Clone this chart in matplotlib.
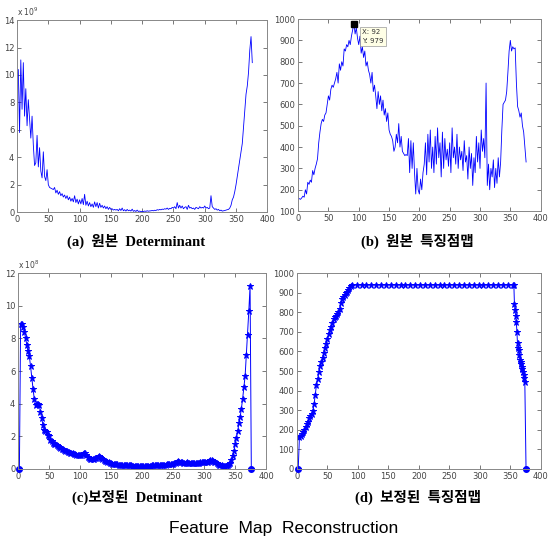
import numpy as np
import matplotlib.pyplot as plt

# (a) original determinant (units of 1e9), one value every 2 frames from 0
det_orig = [
    10.0, 10.4, 5.8, 11.1, 7.5, 10.9, 7.0, 9.0, 6.3, 8.2,
    6.8, 5.4, 7.0, 4.9, 3.4, 3.6, 5.6, 3.3, 4.7, 3.0,
    2.5, 4.4, 2.6, 2.3, 3.1, 2.0, 1.8, 1.75, 1.7, 1.65,
    1.8, 1.4, 1.6, 1.3, 1.5, 1.2, 1.35, 1.1, 1.25, 1.0,
    1.2, 0.9, 1.1, 0.8, 1.0, 0.75, 1.2, 0.7, 0.95, 0.6,
    0.9, 0.6, 1.0, 0.55, 1.3, 0.5, 0.8, 0.45, 0.7, 0.4,
    0.6, 0.35, 0.75, 0.4, 0.7, 0.3, 0.65, 0.35, 0.5, 0.3,
    0.45, 0.25, 0.4, 0.2, 0.35, 0.2, 0.25, 0.15, 0.2, 0.15,
    0.2, 0.1, 0.25, 0.12, 0.3, 0.1, 0.18, 0.08, 0.2, 0.1,
    0.15, 0.08, 0.22, 0.06, 0.12, 0.05, 0.15, 0.05, 0.08, 0.04,
    0.06, 0.05, 0.08, 0.06, 0.1, 0.07, 0.09, 0.1, 0.12, 0.1,
    0.14, 0.12, 0.18, 0.15, 0.2, 0.17, 0.22, 0.2, 0.25, 0.22,
    0.3, 0.2, 0.28, 0.25, 0.35, 0.3, 0.4, 0.25, 0.7, 0.3,
    0.5, 0.3, 0.45, 0.25, 0.35, 0.4, 0.2, 0.5, 0.3, 0.35,
    0.25, 0.3, 0.2, 0.35, 0.3, 0.25, 0.4, 0.3, 0.35, 0.3,
    0.45, 0.3, 0.35, 0.25, 0.3, 1.2, 0.4, 0.3, 0.2, 0.25,
    0.15, 0.2, 0.1, 0.15, 0.08, 0.1, 0.12, 0.15, 0.18, 0.2,
    0.3, 0.5, 0.9, 1.1, 1.5, 2.0, 2.6, 3.2, 3.8, 4.4,
    5.0, 6.2, 7.4, 8.6, 9.2, 10.2, 11.8, 12.8, 10.9,
]

# (b) original feature-point map
feat_orig = [
    160, 158, 155, 162, 170, 165, 200, 180, 235, 225,
    245, 235, 290, 270, 300, 320, 345, 420, 470, 510,
    530, 520, 550, 560, 600, 640, 620, 670, 690, 680,
    700, 720, 750, 700, 790, 760, 800, 780, 860, 850,
    880, 870, 900, 880, 920, 950, 979, 930, 960, 910,
    880, 920, 840, 870, 820, 850, 780, 800, 760, 740,
    700, 750, 660, 690, 640, 580, 660, 600, 640, 570,
    620, 550, 580, 520, 560, 480, 460, 450, 430, 380,
    400, 460, 420, 510, 400, 450, 380, 370, 360, 365,
    360, 440, 280, 430, 300, 420, 280, 180, 300, 200,
    180, 250, 200, 280, 320, 420, 270, 460, 330, 480,
    300, 400, 280, 450, 320, 490, 350, 420, 260, 470,
    300, 440, 340, 390, 310, 420, 280, 490, 350, 400,
    320, 460, 300, 400, 340, 380, 290, 430, 330, 360,
    250, 400, 300, 370, 220, 350, 280, 450, 330, 420,
    300, 480, 380, 440, 350, 700, 220, 320, 200, 300,
    260, 340, 210, 300, 230, 350, 260, 330, 480, 600,
    610, 620, 660, 750, 850, 900, 850, 870, 860, 865,
    700, 590, 570, 540, 560, 500, 470, 400, 330,
]
frames_orig = np.arange(0, 377, 2)

# (c) corrected determinant (units of 1e8)
det_fix = [
    0, 8.9, 8.85, 8.7, 8.4, 8.0, 7.6, 7.2, 6.9, 6.3,
    5.6, 4.9, 4.3, 3.9, 3.95, 4.0, 3.9, 3.5, 3.1, 2.7,
    2.4, 2.3, 2.25, 2.1, 2.0, 1.8, 1.7, 1.6, 1.55, 1.5,
    1.45, 1.4, 1.35, 1.3, 1.25, 1.2, 1.15, 1.12, 1.1, 1.05,
    1.02, 1.0, 0.97, 0.95, 0.92, 0.9, 0.88, 0.87, 0.85, 0.85,
    0.88, 0.92, 0.97, 0.95, 0.85, 0.75, 0.65, 0.6, 0.58, 0.6,
    0.62, 0.66, 0.7, 0.75, 0.77, 0.75, 0.7, 0.62, 0.55, 0.5,
    0.47, 0.43, 0.4, 0.37, 0.35, 0.33, 0.31, 0.3, 0.29, 0.28,
    0.27, 0.26, 0.26, 0.25, 0.24, 0.24, 0.23, 0.23, 0.22, 0.22,
    0.22, 0.21, 0.2, 0.19, 0.18, 0.17, 0.16, 0.15, 0.15, 0.15,
    0.15, 0.16, 0.17, 0.18, 0.19, 0.2, 0.21, 0.22, 0.22, 0.23,
    0.23, 0.24, 0.24, 0.25, 0.25, 0.25, 0.26, 0.26, 0.27, 0.28,
    0.29, 0.3, 0.31, 0.32, 0.33, 0.35, 0.38, 0.45, 0.48, 0.45,
    0.42, 0.4, 0.38, 0.37, 0.38, 0.4, 0.39, 0.37, 0.36, 0.37,
    0.38, 0.36, 0.35, 0.34, 0.35, 0.37, 0.4, 0.42, 0.43, 0.42,
    0.4, 0.42, 0.45, 0.5, 0.53, 0.55, 0.5, 0.45, 0.4, 0.35,
    0.3, 0.27, 0.25, 0.22, 0.2, 0.18, 0.18, 0.19, 0.22, 0.28,
    0.38, 0.55, 0.8, 1.1, 1.5, 1.9, 2.3, 2.8, 3.2, 3.7,
    4.3, 5.0, 5.7, 7.0, 8.2, 9.7, 11.2, 0,
]
frames_det_fix = np.arange(2, 377, 2)

# (d) corrected feature-point map
ramp = [0, 165, 170, 178, 188, 200, 212, 228, 242, 258,
        270, 282, 298, 330, 380, 430, 460, 495, 525, 545,
        565, 590, 615, 640, 665, 690, 708, 725, 745, 765,
        775, 780, 790, 800, 815, 845, 870, 880, 890, 897,
        903, 912, 922, 932]
plateau = [940] * 35
descent = [840, 810, 780, 752, 701, 641, 620, 607, 580, 556,
           545, 535, 522, 510, 495, 480, 462, 446, 0]
feat_fix = ramp + plateau + descent
frames_feat_fix = (list(range(2, 90, 2)) + list(range(90, 355, 8)) + [356]
                   + list(range(357, 375)) + [376])

captions = ['(a)  원본  Determinant', '(b)  원본  특징점맵',
            '(c)보정된  Detminant', '(d)  보정된  특징점맵']
cap_font = ['Liberation Serif', 'Noto Sans CJK KR']

fig = plt.figure(figsize=(5.5, 5.44), dpi=100)
ax_a = fig.add_axes([0.031, 0.610, 0.455, 0.353])
ax_b = fig.add_axes([0.542, 0.612, 0.441, 0.353])
ax_c = fig.add_axes([0.033, 0.138, 0.451, 0.360])
ax_d = fig.add_axes([0.540, 0.138, 0.443, 0.360])

for ax in (ax_a, ax_b, ax_c, ax_d):
    ax.tick_params(direction='in', top=True, right=True, length=3, width=0.5,
                   labelsize=6, colors='#444444', pad=2)
    for s in ax.spines.values():
        s.set_color('#888888')
        s.set_linewidth(0.7)
    ax.set_xlim(0, 400)
    ax.set_xticks(range(0, 401, 50))

blue = '#0000ff'

ax_a.plot(frames_orig, det_orig, color=blue, lw=0.6)
ax_a.set_ylim(0, 14)
ax_a.set_yticks(range(0, 15, 2))
ax_a.text(0.0, 1.01, r'x 10$^9$', transform=ax_a.transAxes, fontsize=5.5,
          color='#444444', va='bottom')

ax_b.plot(frames_orig, feat_orig, color=blue, lw=0.6)
ax_b.set_ylim(100, 1000)
ax_b.set_yticks(range(100, 1001, 100))
i_max = int(np.argmax(feat_orig))
ax_b.plot(frames_orig[i_max], feat_orig[i_max], 's', color='black', ms=4,
          clip_on=False)
ax_b.annotate('X: %d\nY: %d' % (frames_orig[i_max], feat_orig[i_max]),
              (frames_orig[i_max], feat_orig[i_max]), xytext=(6, -4),
              textcoords='offset points', fontsize=5, va='top',
              color='#333333', linespacing=1.5,
              bbox=dict(boxstyle='square,pad=0.35', fc='#ffffe6', ec='#999999',
                        lw=0.5))

ax_c.plot(frames_det_fix, det_fix, color=blue, lw=0.7, marker='*', ms=5,
          mew=0.7)
zc = [x for x, v in zip(frames_det_fix, det_fix) if v == 0]
ax_c.plot(zc, [0] * len(zc), 'o', color=blue, ms=4, clip_on=False)
ax_c.set_ylim(0, 12)
ax_c.set_yticks(range(0, 13, 2))
ax_c.text(0.0, 1.01, r'x 10$^8$', transform=ax_c.transAxes, fontsize=5.5,
          color='#444444', va='bottom')

ax_d.plot(frames_feat_fix, feat_fix, color=blue, lw=0.7, marker='*', ms=5,
          mew=0.7)
zd = [x for x, v in zip(frames_feat_fix, feat_fix) if v == 0]
ax_d.plot(zd, [0] * len(zd), 'o', color=blue, ms=4, clip_on=False)
ax_d.set_ylim(0, 1000)
ax_d.set_yticks(range(0, 1001, 100))

cap_pos = [(0.248, 0.557), (0.758, 0.557), (0.249, 0.085), (0.760, 0.085)]
for (x, y), txt in zip(cap_pos, captions):
    fig.text(x, y, txt, ha='center', va='center', fontsize=10.5,
             fontweight='bold', family=cap_font)

fig.text(0.515, 0.029, 'Feature  Map  Reconstruction', ha='center',
         va='center', fontsize=12.5, family='Liberation Sans')

fig.savefig('out.png', dpi=100)
